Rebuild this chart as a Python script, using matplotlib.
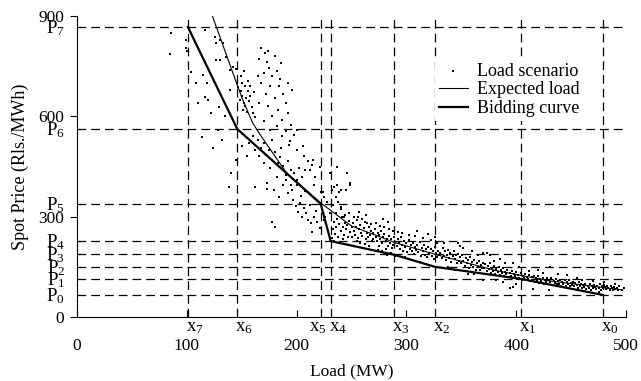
import numpy as np
import matplotlib
matplotlib.use("Agg")
import matplotlib.pyplot as plt
from matplotlib.transforms import offset_copy

plt.rcParams['font.family'] = ['Liberation Serif', 'DejaVu Serif']
plt.rcParams['mathtext.fontset'] = 'custom'
plt.rcParams['mathtext.rm'] = 'Liberation Serif'
plt.rcParams['mathtext.it'] = 'Liberation Serif:italic'

# breakpoints of the bidding curve (load x_i, price P_i)
x_pts = [479, 404, 326, 289, 231, 222, 146, 101]      # x0 .. x7
p_pts = [66, 114, 150, 188, 227, 338, 562, 867]       # P0 .. P7

# bidding curve (thick)
bid_x = [101, 146, 222, 231, 289, 326, 404, 479]
bid_y = [867, 562, 338, 227, 186, 150, 114, 66]

# expected load curve (thin)
exp_x = [123, 146, 151, 160, 167, 191, 222, 250, 290, 330, 380, 430, 497]
exp_y = [903, 693, 649, 580, 544, 430, 341, 272, 222, 184, 140, 108, 81]

# load scenarios
scen_top = [(86, 850), (85, 786), (99, 828), (99, 805), (100, 795), (104, 733), (117, 858),
            (115, 724), (118, 700), (117, 658), (119, 649), (129, 628), (114, 538), (132, 529),
            (124, 505), (126, 838), (127, 819), (130, 828), (133, 819), (127, 768), (130, 768),
            (136, 778), (139, 739), (142, 748), (139, 679), (110, 640), (122, 610), (135, 600),
            (128, 560), (108, 700)]

scen_upper = [(146, 700), (147, 688), (149, 676), (150, 662), (148, 650), (152, 640), (153, 630),
              (151, 618), (155, 612), (150, 700), (153, 690), (156, 676), (158, 660), (154, 655),
              (157, 645), (159, 628), (160, 610), (162, 598), (149, 720), (152, 735), (145, 742),
              (156, 705), (158, 690), (161, 672), (168, 804), (171, 789), (173, 763), (166, 770),
              (175, 745), (170, 730), (178, 720), (182, 735), (185, 712), (168, 700), (176, 690),
              (184, 690), (188, 668), (172, 668), (180, 655), (190, 640), (166, 640), (174, 630),
              (183, 620), (192, 610), (178, 600), (187, 590), (170, 585), (195, 575), (182, 570),
              (176, 560), (190, 555), (198, 545), (165, 720), (186, 760), (180, 780), (174, 795),
              (192, 700), (196, 680), (200, 560), (160, 540), (165, 528), (170, 520), (168, 505),
              (175, 498), (172, 485), (180, 492), (178, 470), (185, 478), (183, 460), (188, 452),
              (192, 465), (195, 440), (190, 425), (198, 430), (202, 445), (205, 420), (200, 410),
              (157, 520), (162, 500), (170, 460), (176, 445), (166, 480), (186, 505), (193, 515),
              (200, 500), (207, 480), (210, 465), (214, 455), (208, 440), (155, 480), (150, 510),
              (145, 470), (140, 430), (182, 420), (173, 400), (195, 395), (178, 530), (187, 540),
              (194, 525), (206, 510), (215, 470), (221, 449), (230, 431), (237, 449), (246, 431),
              (249, 401), (240, 380), (234, 389), (212, 440), (217, 419)]

scen_mid = [(138, 389), (162, 389), (173, 383), (179, 380), (178, 284), (180, 269), (188, 395),
            (192, 370), (197, 350), (199, 332), (201, 315), (203, 340), (205, 300), (207, 325),
            (209, 310), (210, 290), (212, 335), (213, 281), (214, 254), (216, 300), (218, 318),
            (204, 362), (196, 380), (208, 378), (216, 395), (222, 375), (225, 360), (228, 345),
            (232, 380), (236, 360), (238, 345), (240, 330), (230, 310), (226, 300), (219, 285),
            (221, 265), (225, 290), (233, 335), (243, 300), (245, 380), (190, 410), (184, 360),
            (200, 395), (237, 395), (249, 395), (224, 374), (239, 374)]

scen_band = [(233, 262), (234, 285), (235, 248), (236, 270), (237, 292), (238, 240), (239, 278),
             (240, 258), (241, 298), (242, 268), (243, 246), (244, 282), (245, 262), (246, 276),
             (247, 238), (248, 288), (249, 255), (250, 270), (232, 236), (236, 312), (240, 322),
             (244, 305), (248, 310), (250, 240), (234, 228), (242, 232),
             (251, 282), (252, 258), (253, 246), (254, 268), (255, 290), (256, 236), (257, 262),
             (258, 275), (259, 250), (260, 242), (261, 266), (262, 285), (263, 232), (264, 252),
             (265, 240), (266, 270), (267, 246), (268, 258), (269, 228), (270, 250), (252, 300),
             (256, 298), (260, 292), (264, 282), (268, 278), (270, 232), (258, 222), (262, 218),
             (266, 212), (255, 226), (257, 314), (263, 306),
             (271, 262), (272, 238), (273, 226), (274, 252), (275, 244), (276, 232), (277, 258),
             (278, 220), (279, 240), (280, 248), (281, 226), (282, 234), (283, 212), (284, 242),
             (285, 222), (286, 232), (287, 206), (288, 216), (289, 240), (290, 224), (272, 282),
             (276, 272), (280, 268), (284, 262), (288, 256), (274, 200), (278, 196), (282, 186),
             (286, 190), (290, 182), (281, 204), (275, 212), (279, 292), (283, 285),
             (291, 212), (292, 232), (293, 220), (294, 204), (295, 238), (296, 214), (297, 198),
             (298, 226), (299, 208), (300, 220), (301, 194), (302, 230), (303, 204), (304, 214),
             (305, 196), (306, 222), (307, 188), (308, 210), (309, 200), (310, 214), (311, 194),
             (312, 224), (313, 182), (314, 206), (315, 196), (316, 216), (317, 186), (318, 202),
             (319, 178), (320, 210), (321, 192), (322, 204), (323, 182), (324, 196), (325, 172),
             (326, 208), (327, 190), (328, 180), (329, 198), (330, 186), (296, 250), (302, 246),
             (308, 242), (315, 236), (322, 230), (328, 222), (305, 170), (312, 164), (318, 158),
             (299, 178), (326, 238), (320, 248), (292, 255), (310, 258)]

scen_tail = [(331, 190), (332, 175), (333, 205), (334, 182), (335, 196), (336, 170), (337, 186),
             (338, 200), (339, 176), (340, 190), (341, 164), (342, 182), (343, 196), (344, 172),
             (345, 184), (346, 160), (347, 188), (348, 166), (349, 178), (350, 162), (351, 184),
             (352, 168), (353, 152), (354, 176), (355, 160), (356, 170), (357, 148), (358, 178),
             (359, 154), (360, 164), (361, 150), (362, 170), (363, 142), (364, 160), (365, 150),
             (366, 166), (367, 140), (368, 156), (369, 146), (370, 160), (347, 221), (349, 212),
             (370, 191), (352, 205), (360, 196), (365, 186), (370, 111), (356, 128), (344, 140),
             (338, 150), (334, 220), (362, 130),
             (371, 146), (372, 158), (373, 138), (374, 152), (375, 144), (376, 160), (377, 132),
             (378, 148), (379, 138), (380, 152), (381, 128), (382, 144), (383, 136), (384, 150),
             (385, 126), (386, 140), (387, 132), (388, 146), (389, 122), (390, 136), (391, 128),
             (392, 142), (393, 120), (394, 132), (395, 124), (396, 138), (397, 116), (398, 130),
             (399, 122), (400, 134), (401, 114), (402, 126), (403, 118), (404, 132), (405, 110),
             (406, 122), (407, 116), (408, 128), (409, 110), (410, 120), (376, 185), (385, 172),
             (397, 161), (403, 150), (373, 191), (380, 168), (390, 160), (394, 87), (397, 90),
             (388, 104), (400, 98), (382, 110),
             (411, 114), (412, 126), (413, 108), (414, 120), (415, 112), (416, 124), (417, 104),
             (418, 116), (419, 110), (420, 122), (421, 102), (422, 114), (423, 108), (424, 118),
             (425, 100), (426, 112), (427, 106), (428, 118), (429, 98), (430, 110), (431, 104),
             (432, 116), (433, 96), (434, 108), (435, 102), (436, 114), (437, 98), (438, 108),
             (439, 100), (440, 112), (441, 94), (442, 106), (443, 100), (444, 110), (445, 92),
             (446, 104), (447, 98), (448, 110), (449, 92), (450, 102), (424, 131), (431, 150),
             (446, 125), (420, 140), (438, 128), (415, 85), (430, 82), (412, 138),
             (451, 96), (452, 106), (453, 92), (454, 102), (455, 96), (456, 88), (457, 104),
             (458, 92), (459, 100), (460, 86), (461, 96), (462, 90), (463, 100), (464, 84),
             (465, 94), (466, 88), (467, 98), (468, 82), (469, 92), (470, 86), (471, 96),
             (472, 90), (473, 84), (474, 94), (475, 88), (476, 98), (477, 82), (478, 92),
             (479, 86), (480, 96), (481, 90), (482, 84), (483, 94), (484, 88), (485, 82),
             (486, 92), (487, 86), (488, 80), (489, 90), (490, 84), (492, 88), (494, 92),
             (496, 82), (460, 112), (470, 108), (480, 104), (490, 100), (455, 116), (475, 74),
             (465, 76), (498, 86), (493, 80)]

scen = np.array(scen_top + scen_upper + scen_mid + scen_band + scen_tail)

fig = plt.figure(figsize=(6.41, 3.81), dpi=100)
ax = fig.add_axes([77/641, 1 - 317/381, 549/641, 301/381])

# dashed reference lines
for xv in x_pts:
    ax.axvline(xv, color='k', lw=0.9, dashes=(7, 4), zorder=1)
for pv in p_pts:
    ax.axhline(pv, color='k', lw=0.9, dashes=(7, 4), zorder=1)

ax.scatter(scen[:, 0], scen[:, 1], s=2.0, marker='s', color='k', linewidths=0,
           zorder=2, label='Load scenario')
ax.plot(exp_x, exp_y, color='k', lw=0.8, zorder=3, label='Expected load')
ax.plot(bid_x, bid_y, color='k', lw=1.6, zorder=4, label='Bidding curve')

ax.set_xlim(0, 500)
ax.set_ylim(0, 900)
ax.set_xticks([0, 100, 200, 300, 400, 500])
ax.set_yticks([0, 300, 600, 900])
ax.tick_params(axis='x', direction='in', length=5, pad=15, labelsize=12.5)
ax.tick_params(axis='y', direction='out', length=5, pad=4, labelsize=12.5)
for s in ['top', 'right']:
    ax.spines[s].set_visible(False)

# x_i labels under the axis (x5 pushed left of its line, as in the original)
for i, xv in enumerate(x_pts):
    if i == 5:
        tx = offset_copy(ax.get_xaxis_transform(), fig=fig, x=6, y=-14, units='dots')
        ha = 'right'
    else:
        tx = offset_copy(ax.get_xaxis_transform(), fig=fig, x=-2, y=-14, units='dots')
        ha = 'left'
    ax.text(xv, 0, r'$\mathrm{x}_{%d}$' % i, transform=tx, ha=ha, va='baseline',
            fontsize=13.5)
# P_i labels left of the axis
ty = offset_copy(ax.get_yaxis_transform(), fig=fig, x=-12, y=-6, units='dots')
for i, pv in enumerate(p_pts):
    ax.text(0, pv, r'$\mathrm{P}_{%d}$' % i, transform=ty, ha='right', va='baseline',
            fontsize=13.5)

ax.set_xlabel('Load (MW)', fontsize=12.5)
ax.xaxis.set_label_coords(0.5, -0.155)
ax.set_ylabel('Spot Price (Rls./MWh)', fontsize=13)
ax.yaxis.set_label_coords(-0.088, 0.5)

leg = ax.legend(loc='upper left', bbox_to_anchor=(435/641, 1 - 59/381),
                bbox_transform=fig.transFigure, fontsize=13, frameon=True,
                edgecolor='none', facecolor='white', framealpha=1, fancybox=False,
                borderpad=0.2, borderaxespad=0, handlelength=1.6, handletextpad=0.55,
                labelspacing=0.1, scatterpoints=1, markerscale=1.0)

plt.savefig('out.png', dpi=100)
